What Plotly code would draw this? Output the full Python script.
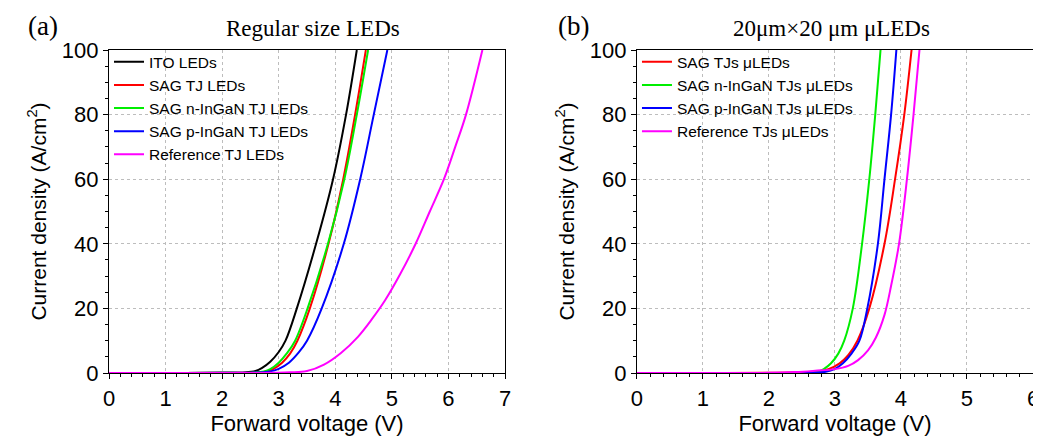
import plotly.graph_objects as go

# ---------------- data: panel (a) regular size LEDs ----------------
ito_v = [0, 1.0, 2.0, 2.4, 2.59, 2.7, 2.85, 3.0, 3.12, 3.32, 3.66, 3.96, 4.19, 4.38]
ito_j = [0, 0, 0.05, 0.15, 0.6, 1.5, 3.5, 6.5, 10, 20, 40, 60, 80, 100]

sag_v = [0, 1.0, 2.0, 2.5, 2.79, 2.9, 3.06, 3.2, 3.33, 3.55, 3.88, 4.14, 4.35, 4.54]
sag_j = [0, 0, 0.05, 0.1, 0.5, 1.2, 3.2, 6, 10, 20, 40, 60, 80, 100]

sagn_v = [0, 1.0, 2.0, 2.5, 2.74, 2.85, 3.0, 3.15, 3.29, 3.51, 3.87, 4.16, 4.38, 4.58]
sagn_j = [0, 0, 0.05, 0.1, 0.5, 1.2, 3.2, 6.2, 10, 20, 40, 60, 80, 100]

sagp_v = [0, 1.0, 2.0, 2.5, 2.85, 3.0, 3.18, 3.35, 3.5, 3.76, 4.15, 4.44, 4.68, 4.92]
sagp_j = [0, 0, 0.05, 0.1, 0.5, 1.3, 3.2, 6.3, 10, 20, 40, 60, 80, 100]

ref_v = [0, 1.0, 2.0, 2.5, 2.9, 3.2, 3.5, 3.8, 4.1, 4.4, 4.64, 4.88, 5.15, 5.42, 5.67, 5.92, 6.12, 6.31, 6.6]
ref_j = [0, 0, 0.01, 0.02, 0.08, 0.2, 0.6, 2.6, 6.2, 11.2, 16.5, 22.5, 30.7, 40, 50, 60, 70, 80, 100]

# ---------------- data: panel (b) 20 um x 20 um uLEDs ----------------
b_sag_v = [0, 1.0, 2.0, 2.4, 2.7, 2.9, 3.07, 3.2, 3.34, 3.52, 3.75, 3.91, 4.05, 4.16]
b_sag_j = [0, 0, 0.05, 0.2, 0.5, 1.2, 3, 5.5, 10, 20, 40, 60, 80, 100]

b_sagn_v = [0, 1.0, 2.0, 2.5, 2.76, 2.85, 2.94, 3.05, 3.14, 3.27, 3.41, 3.52, 3.61, 3.69]
b_sagn_j = [0, 0, 0.02, 0.1, 0.5, 1.5, 3, 6, 10, 20, 40, 60, 80, 100]

b_sagp_v = [0, 1.0, 2.0, 2.5, 2.86, 3.0, 3.12, 3.25, 3.37, 3.49, 3.65, 3.75, 3.85, 3.93]
b_sagp_j = [0, 0, 0.02, 0.1, 0.4, 1.3, 3, 6, 10, 20, 40, 60, 80, 100]

b_ref_v = [0, 1.0, 2.0, 2.4, 2.7, 3.0, 3.2, 3.35, 3.5, 3.62, 3.75, 3.85, 3.97, 4.09, 4.19, 4.28]
b_ref_j = [0, 0, 0.05, 0.3, 0.7, 1.2, 2.2, 4, 7, 11, 18, 27, 40, 60, 80, 100]

panel_a = [
    ("ITO LEDs", ito_v, ito_j, "#000000"),
    ("SAG TJ LEDs", sag_v, sag_j, "#ff0000"),
    ("SAG n-InGaN TJ LEDs", sagn_v, sagn_j, "#00ee00"),
    ("SAG p-InGaN TJ LEDs", sagp_v, sagp_j, "#0000ff"),
    ("Reference TJ LEDs", ref_v, ref_j, "#ff00ff"),
]
panel_b = [
    ("SAG TJs μLEDs", b_sag_v, b_sag_j, "#ff0000"),
    ("SAG n-InGaN TJs μLEDs", b_sagn_v, b_sagn_j, "#00ee00"),
    ("SAG p-InGaN TJs μLEDs", b_sagp_v, b_sagp_j, "#0000ff"),
    ("Reference TJs μLEDs", b_ref_v, b_ref_j, "#ff00ff"),
]

fig = go.Figure()
for name, v, j, c in panel_a:
    fig.add_trace(go.Scatter(x=v, y=j, mode="lines", name=name,
                             line=dict(color=c, width=2, shape="spline", smoothing=1.0),
                             xaxis="x", yaxis="y", legend="legend"))
for name, v, j, c in panel_b:
    fig.add_trace(go.Scatter(x=v, y=j, mode="lines", name=name,
                             line=dict(color=c, width=2, shape="spline", smoothing=1.0),
                             xaxis="x2", yaxis="y2", legend="legend2"))

FONT = "Arial, Liberation Sans, sans-serif"
SERIF = "Times New Roman, Liberation Serif, serif"

def xax(rng, dom, anchor):
    return dict(domain=dom, range=rng, anchor=anchor, dtick=1, tick0=0, automargin=False,
                showline=True, linecolor="black", linewidth=1.3, mirror=True,
                ticks="outside", ticklen=5, tickcolor="black",
                minor=dict(dtick=0.2, ticks="outside", ticklen=3, tickcolor="black", showgrid=False),
                showgrid=True, gridcolor="#bdbdbd", griddash="dot", gridwidth=1,
                zeroline=False, tickfont=dict(size=22, family=FONT, color="black"),
                title=dict(text="Forward voltage (V)", font=dict(size=22, family=FONT, color="black"),
                           standoff=6))

def yax(dom_anchor):
    return dict(range=[0, 100], anchor=dom_anchor, dtick=20, tick0=0, automargin=False,
                showline=True, linecolor="black", linewidth=1.3, mirror=True,
                ticks="outside", ticklen=5, tickcolor="black",
                minor=dict(dtick=5, ticks="outside", ticklen=3, tickcolor="black", showgrid=False),
                showgrid=True, gridcolor="#bdbdbd", griddash="dot", gridwidth=1,
                zeroline=False, tickfont=dict(size=22, family=FONT, color="black"),
                title=dict(text="Current density (A/cm<sup>2</sup>)",
                           font=dict(size=21, family=FONT, color="black"), standoff=9))

# page body has an 8 px margin, so the figure is sized/offset to compensate
OFF = 8
W, H = 1041 - OFF, 445 - 2 * OFF
L = 109 - OFF
T = 50 - OFF
R = (OFF + W) - 1033
B = (OFF + H) - 373
fig.update_layout(
    width=W, height=H,
    margin=dict(l=L, r=R, t=T, b=B),
    paper_bgcolor="white", plot_bgcolor="white",
    xaxis=xax([0, 7], [0, 0.4286], "y"),
    yaxis=yax("x"),
    xaxis2=xax([0, 6], [0.5714, 1], "y2"),
    yaxis2=yax("x2"),
    legend=dict(x=0.0, y=1.015, xanchor="left", yanchor="top", bgcolor="rgba(0,0,0,0)",
                font=dict(size=15.5, family=FONT, color="black"), tracegroupgap=0,
                itemwidth=30),
    legend2=dict(x=0.5714, y=1.015, xanchor="left", yanchor="top", bgcolor="rgba(0,0,0,0)",
                 font=dict(size=15.5, family=FONT, color="black"), tracegroupgap=0,
                 itemwidth=30),
    showlegend=True,
)

pw = W - L - R
ph = H - T - B
def px(xp):
    return (xp - OFF - L) / pw
def py(yp):
    return (H - B - (yp - OFF)) / ph

for txt, xp, yp, size in [("(a)", 43, 26, 27), ("Regular size LEDs", 313, 29, 23),
                          ("(b)", 573, 26, 27), ("20μm×20 μm μLEDs", 831, 29, 23)]:
    fig.add_annotation(text=txt, x=px(xp), y=py(yp), xref="paper", yref="paper",
                       xanchor="center", yanchor="middle", showarrow=False,
                       font=dict(size=size, family=SERIF, color="black"))

fig.write_html("out.html")
